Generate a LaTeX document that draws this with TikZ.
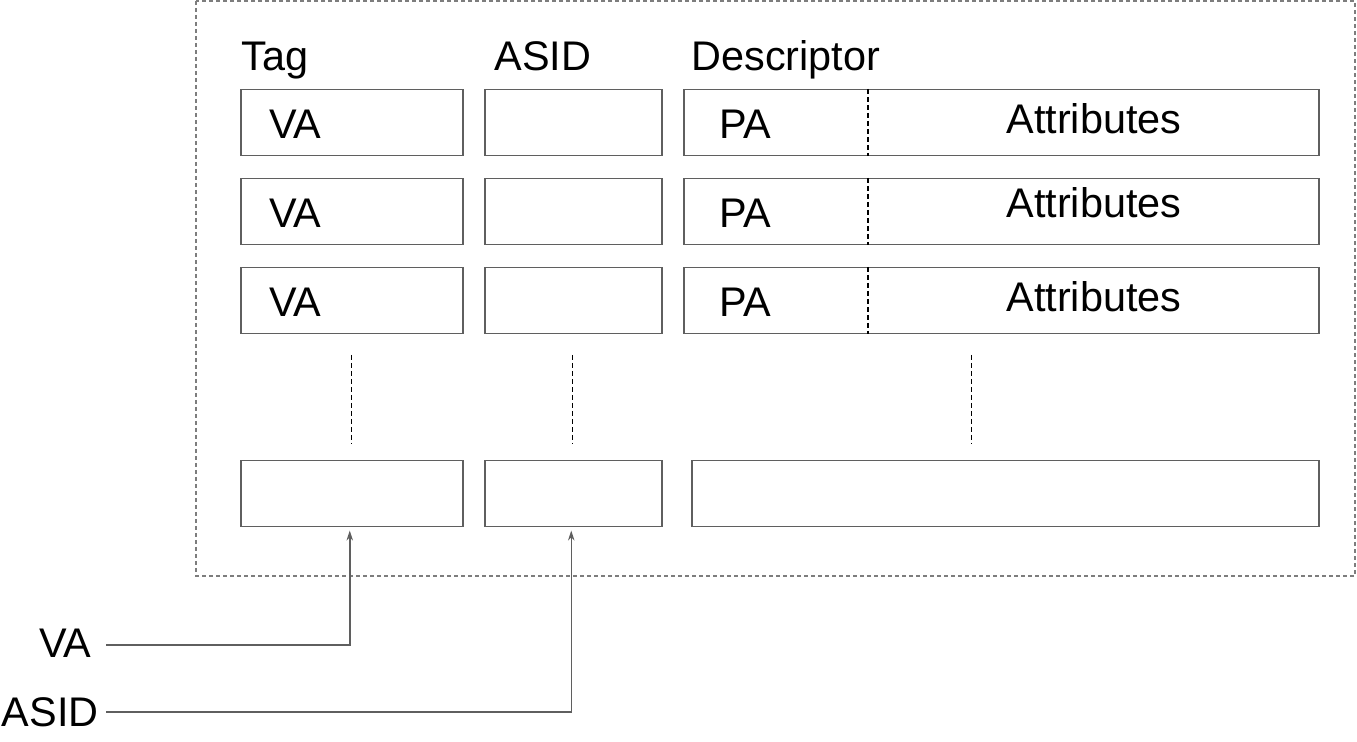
\documentclass[tikz,border=0pt]{standalone}
\usepackage{fontspec}
\setmainfont{Liberation Sans}
\usetikzlibrary{arrows.meta,positioning}
\definecolor{boxgray}{RGB}{95,95,95}
\definecolor{framegray}{RGB}{125,125,125}

\begin{document}
\begin{tikzpicture}[x=0.5pt, y=-0.5pt,
    cell/.style={draw=boxgray, line width=0.75pt, anchor=north west, inner sep=0pt, minimum height=33pt},
    lbl/.style={font=\fontsize{20.7}{24}\selectfont, inner sep=0pt},
    divline/.style={dashed, dash pattern=on 2.5pt off 1.5pt, line width=0.6pt},
    frame/.style={draw=framegray, dash pattern=on 2pt off 1.5pt, line width=0.7pt},
    feed/.style={draw=boxgray, line width=0.75pt, -{Stealth[length=5pt, width=3.2pt]}, shorten >=1.5pt}]
  \useasboundingbox (0,0) rectangle (1357,742);
  \draw[frame] (196,1) rectangle (1355,576);

  % column headings
  \node[lbl, anchor=base west] (hdtag) at (241,71) {Tag};
  \node[lbl, anchor=base west] (hdasid) at (494,71) {ASID};
  \node[lbl, anchor=base west] (hddesc) at (691,71) {Descriptor};

  % filled entries
  \foreach \r/\y/\ab in {1/89/134, 2/178/218, 3/267/312} {
    \node[cell, minimum width=111pt] (tag\r) at (240,\y) {};
    \node[cell, minimum width=88.5pt] (asid\r) at (484,\y) {};
    \node[cell, minimum width=317.5pt] (desc\r) at (683,\y) {};
    \draw[divline] ([xshift=92.5pt]desc\r.north west) -- ([xshift=92.5pt]desc\r.south west);
    \node[lbl, anchor=base west] (va\r) at (269,\y+50) {VA};
    \node[lbl, anchor=base west] (pa\r) at (719,\y+50) {PA};
    \node[lbl, anchor=base west] (attr\r) at (1006,\ab) {Attributes};
  }

  % continuation
  \foreach \x in {351,572,971}
    \draw[divline, line width=0.5pt] (\x,355) -- (\x,444);

  % last entry
  \node[cell, minimum width=111pt] (tag4) at (240,460) {};
  \node[cell, minimum width=88.5pt] (asid4) at (484,460) {};
  \node[cell, minimum width=313.5pt] (desc4) at (691,460) {};

  % lookup inputs
  \node[lbl, anchor=base east] (inva) at (92,658) {VA};
  \node[lbl, anchor=base east] (inasid) at (99,727) {ASID};
  \coordinate (vastart) at (106,645);
  \coordinate (asidstart) at (106,712);
  \draw[feed] (vastart) -| ([xshift=-1pt]tag4.south);
  \draw[feed] (asidstart) -| ([xshift=-1pt]asid4.south);
\end{tikzpicture}
\end{document}
